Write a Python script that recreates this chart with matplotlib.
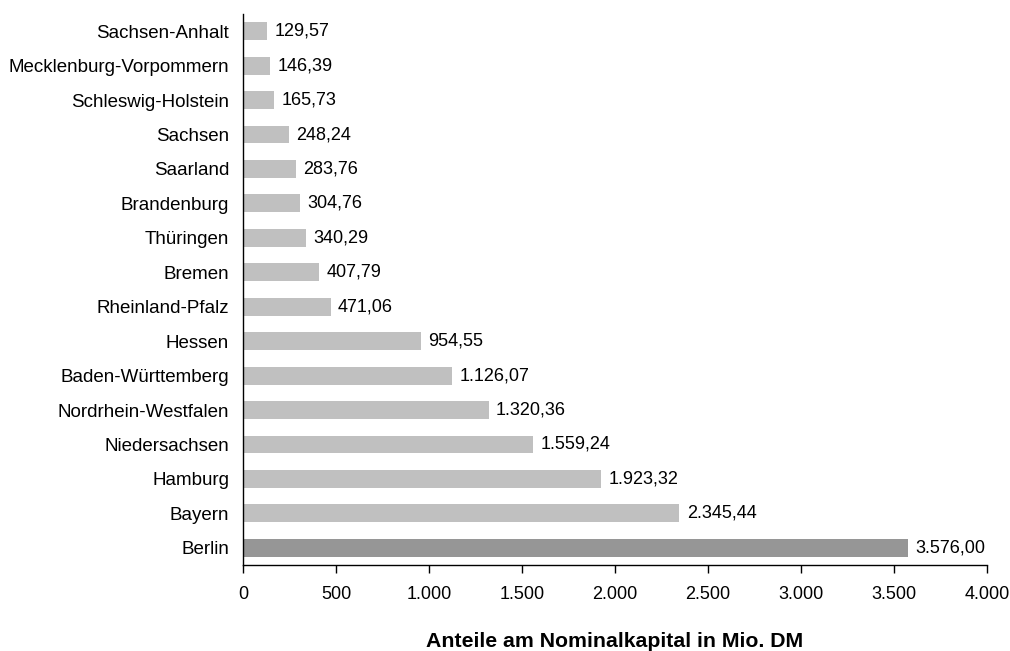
import matplotlib
matplotlib.use("Agg")
import matplotlib.pyplot as plt

plt.rcParams['font.family'] = ['Liberation Sans', 'DejaVu Sans']

# top to bottom as in the chart
states = ["Sachsen-Anhalt", "Mecklenburg-Vorpommern", "Schleswig-Holstein",
          "Sachsen", "Saarland", "Brandenburg", "Thüringen", "Bremen",
          "Rheinland-Pfalz", "Hessen", "Baden-Württemberg",
          "Nordrhein-Westfalen", "Niedersachsen", "Hamburg", "Bayern", "Berlin"]
values = [129.57, 146.39, 165.73, 248.24, 283.76, 304.76, 340.29, 407.79,
          471.06, 954.55, 1126.07, 1320.36, 1559.24, 1923.32, 2345.44, 3576.00]
highlight = "Berlin"
x_ticks = [0, 500, 1000, 1500, 2000, 2500, 3000, 3500, 4000]


def de_fmt(v, dec=2):
    s = f"{v:,.{dec}f}"
    return s.replace(",", "X").replace(".", ",").replace("X", ".")


fig = plt.figure(figsize=(10.1, 6.51), dpi=100)
ax = fig.add_axes([243 / 1010, 1 - 565 / 651, (987 - 243) / 1010, (565 - 14) / 651])

ypos = list(range(len(states)))
colors = ["#969696" if s == highlight else "#c0c0c0" for s in states]
ax.barh(ypos, values, height=0.52, color=colors)

for y, v in zip(ypos, values):
    ax.text(v + 40, y, de_fmt(v), va="center", ha="left", fontsize=13)

ax.set_ylim(len(states) - 0.5, -0.5)
ax.set_xlim(0, 4000)
ax.set_yticks(ypos)
ax.set_yticklabels(states, fontsize=13.5)
ax.set_xticks(x_ticks)
ax.set_xticklabels([de_fmt(t, 0) for t in x_ticks], fontsize=13)

ax.tick_params(axis="y", length=0, pad=10)
ax.tick_params(axis="x", direction="out", length=6, width=1, pad=9)
for side in ["top", "right"]:
    ax.spines[side].set_visible(False)
ax.spines["left"].set_linewidth(1)
ax.spines["bottom"].set_linewidth(1)

fig.text(615 / 1010, 1 - 647 / 651, "Anteile am Nominalkapital in Mio. DM",
         ha="center", va="baseline", fontsize=15.3, fontweight="bold")

fig.savefig("out.png", dpi=100)
